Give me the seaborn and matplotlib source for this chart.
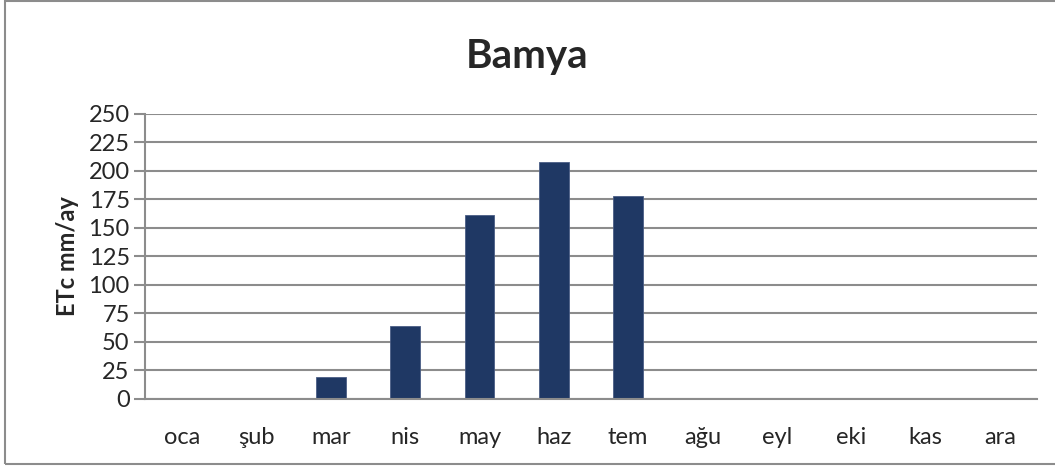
import matplotlib
matplotlib.use("Agg")
import matplotlib.pyplot as plt
import matplotlib.patches as mpatches
import pandas as pd
import seaborn as sns

# monthly crop evapotranspiration for okra (Bamya)
MONTHS = ["oca", "şub", "mar", "nis", "may", "haz", "tem", "ağu", "eyl", "eki", "kas", "ara"]
ETC = [0, 0, 19, 64, 161, 208, 178, 0, 0, 0, 0, 0]
Y_TICKS = [0, 25, 50, 75, 100, 125, 150, 175, 200, 225, 250]

BAR_COLOR = "#1f3864"
GRID_COLOR = "#8c8c8c"

sns.set_theme(style="white")
plt.rcParams["font.family"] = ["Lato", "DejaVu Sans"]

df = pd.DataFrame({"month": MONTHS, "etc": ETC})

fig = plt.figure(figsize=(10.55, 4.66), dpi=100)
ax = fig.add_axes([0.1374, 0.1438, 0.8455, 0.6116])

sns.barplot(data=df, x="month", y="etc", color=BAR_COLOR, saturation=1,
            width=0.4, edgecolor="#4a5d85", linewidth=0.6, ax=ax)

ax.set_ylim(0, 250)
ax.set_xlim(-0.5, len(MONTHS) - 0.5)
ax.set_yticks(Y_TICKS)
ax.yaxis.grid(True, color=GRID_COLOR, linewidth=1.5)
ax.set_axisbelow(True)

for side in ["top", "right"]:
    ax.spines[side].set_visible(False)
for side in ["left", "bottom"]:
    ax.spines[side].set_color(GRID_COLOR)
    ax.spines[side].set_linewidth(1.5)

ax.tick_params(axis="y", which="major", length=8, width=1.5, color=GRID_COLOR,
               labelsize=17, pad=3, left=True)
ax.tick_params(axis="x", length=0, labelsize=17, pad=20)

ax.set_xlabel("")
ax.set_ylabel("ETc mm/ay", fontsize=17, fontweight="bold", labelpad=7)
fig.text(0.5, 0.878, "Bamya", ha="center", va="center", fontsize=29, fontweight="bold")

# outer chart frame
fig.patches.append(mpatches.Rectangle((0.005, 0.004), 1.2, 0.993, transform=fig.transFigure,
                                      fill=False, edgecolor="#8c8c8c", linewidth=1.5))

fig.savefig("out.png", dpi=100)
